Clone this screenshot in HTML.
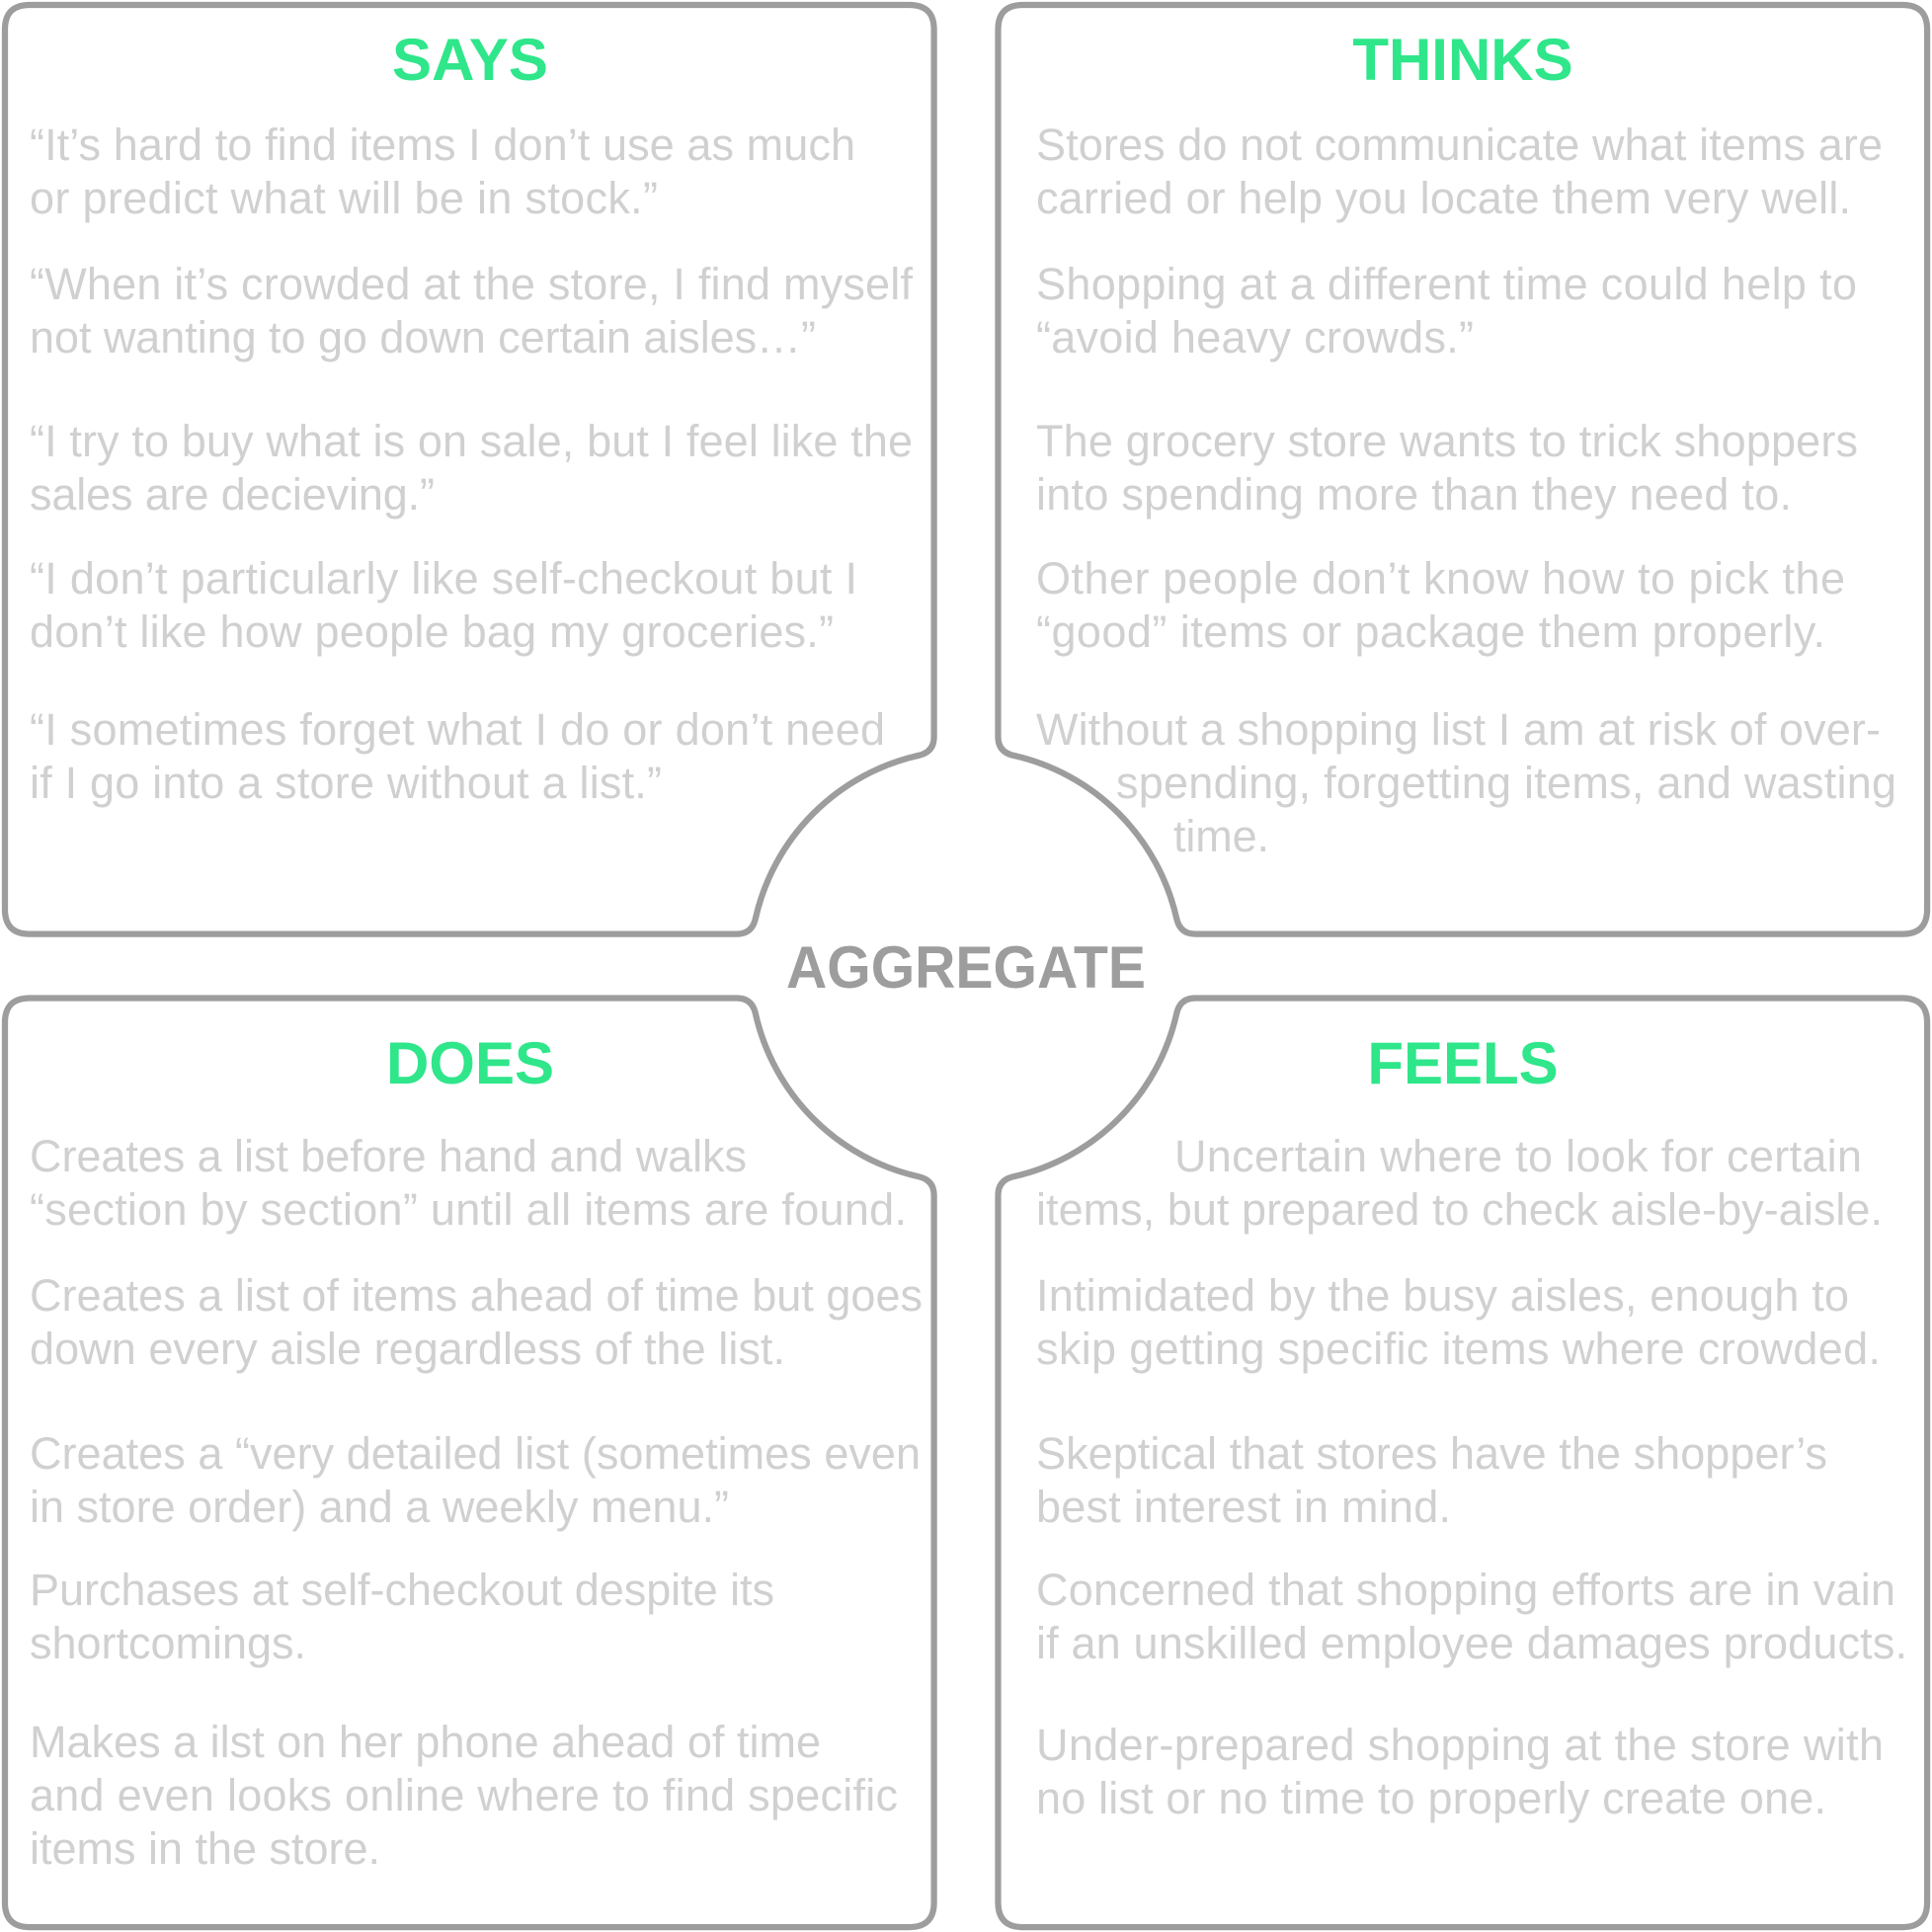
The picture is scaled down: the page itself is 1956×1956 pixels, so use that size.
<!DOCTYPE html>
<html><head><meta charset="utf-8"><style>
html,body{margin:0;padding:0;background:#fff}
svg{display:block}
.b{font-family:"Liberation Sans",sans-serif;font-size:45px;fill:#d0d0d0}
.h{font-family:"Liberation Sans",sans-serif;font-size:60px;font-weight:bold;fill:#2fe68a}
</style></head><body>
<svg width="1956" height="1956" viewBox="0 0 1956 1956" xmlns="http://www.w3.org/2000/svg">
<g fill="none" stroke="#9d9d9d" stroke-width="5" transform="scale(1.2475)">
<path d="M24,4 H738 Q758,4 758,24 V598 Q758,610 746,613 A175,175 0 0 0 613,746 Q610,758 598,758 H24 Q4,758 4,738 V24 Q4,4 24,4 Z"/>
<path d="M1544,4 H830 Q810,4 810,24 V598 Q810,610 822,613 A175,175 0 0 1 955,746 Q958,758 970,758 H1544 Q1564,758 1564,738 V24 Q1564,4 1544,4 Z"/>
<path d="M24,1564 H738 Q758,1564 758,1544 V970 Q758,958 746,955 A175,175 0 0 1 613,822 Q610,810 598,810 H24 Q4,810 4,830 V1544 Q4,1564 24,1564 Z"/>
<path d="M1544,1564 H830 Q810,1564 810,1544 V970 Q810,958 822,955 A175,175 0 0 0 955,822 Q958,810 970,810 H1544 Q1564,810 1564,830 V1544 Q1564,1564 1544,1564 Z"/>
</g>
<g class="h" text-anchor="middle">
<text x="476" y="81">SAYS</text>
<text x="1481" y="81">THINKS</text>
<text x="476" y="1097">DOES</text>
<text x="1481" y="1097">FEELS</text>
<text x="978" y="1000" style="fill:#9d9d9d" textLength="364" lengthAdjust="spacingAndGlyphs">AGGREGATE</text>
</g>
<g class="b" lengthAdjust="spacingAndGlyphs" transform="translate(0,3)">
<text x="30" y="159" textLength="836">“It’s hard to find items I don’t use as much</text>
<text x="30" y="213" textLength="636">or predict what will be in stock.”</text>
<text x="30" y="300" textLength="894">“When it’s crowded at the store, I find myself</text>
<text x="30" y="354" textLength="796">not wanting to go down certain aisles…”</text>
<text x="30" y="459" textLength="894">“I try to buy what is on sale, but I feel like the</text>
<text x="30" y="513" textLength="410">sales are decieving.”</text>
<text x="30" y="598" textLength="838">“I don’t particularly like self-checkout but I</text>
<text x="30" y="652" textLength="814">don’t like how people bag my groceries.”</text>
<text x="30" y="751" textLength="866">“I sometimes forget what I do or don’t need</text>
<text x="30" y="805" textLength="640">if I go into a store without a list.”</text>

<text x="1049" y="159" textLength="857">Stores do not communicate what items are</text>
<text x="1049" y="213" textLength="825">carried or help you locate them very well.</text>
<text x="1049" y="300" textLength="831">Shopping at a different time could help to</text>
<text x="1049" y="354" textLength="443">“avoid heavy crowds.”</text>
<text x="1049" y="459" textLength="832">The grocery store wants to trick shoppers</text>
<text x="1049" y="513" textLength="765">into spending more than they need to.</text>
<text x="1049" y="598" textLength="819">Other people don’t know how to pick the</text>
<text x="1049" y="652" textLength="799">“good” items or package them properly.</text>
<text x="1049" y="751" textLength="855">Without a shopping list I am at risk of over-</text>
<text x="1130" y="805" textLength="790">spending, forgetting items, and wasting</text>
<text x="1188" y="859" textLength="97">time.</text>

<text x="30" y="1183" textLength="726">Creates a list before hand and walks</text>
<text x="30" y="1237" textLength="888">“section by section” until all items are found.</text>
<text x="30" y="1324" textLength="904">Creates a list of items ahead of time but goes</text>
<text x="30" y="1378" textLength="765">down every aisle regardless of the list.</text>
<text x="30" y="1484" textLength="902">Creates a “very detailed list (sometimes even</text>
<text x="30" y="1538" textLength="708">in store order) and a weekly menu.”</text>
<text x="30" y="1622" textLength="754">Purchases at self-checkout despite its</text>
<text x="30" y="1676" textLength="280">shortcomings.</text>
<text x="30" y="1776" textLength="801">Makes a ilst on her phone ahead of time</text>
<text x="30" y="1830" textLength="879">and even looks online where to find specific</text>
<text x="30" y="1884" textLength="355">items in the store.</text>

<text x="1189" y="1183" textLength="696">Uncertain where to look for certain</text>
<text x="1049" y="1237" textLength="857">items, but prepared to check aisle-by-aisle.</text>
<text x="1049" y="1324" textLength="823">Intimidated by the busy aisles, enough to</text>
<text x="1049" y="1378" textLength="855">skip getting specific items where crowded.</text>
<text x="1049" y="1484" textLength="801">Skeptical that stores have the shopper’s</text>
<text x="1049" y="1538" textLength="420">best interest in mind.</text>
<text x="1049" y="1622" textLength="870">Concerned that shopping efforts are in vain</text>
<text x="1049" y="1676" textLength="882">if an unskilled employee damages products.</text>
<text x="1049" y="1779" textLength="858">Under-prepared shopping at the store with</text>
<text x="1049" y="1833" textLength="800">no list or no time to properly create one.</text>
</g>
</svg>
</body></html>
